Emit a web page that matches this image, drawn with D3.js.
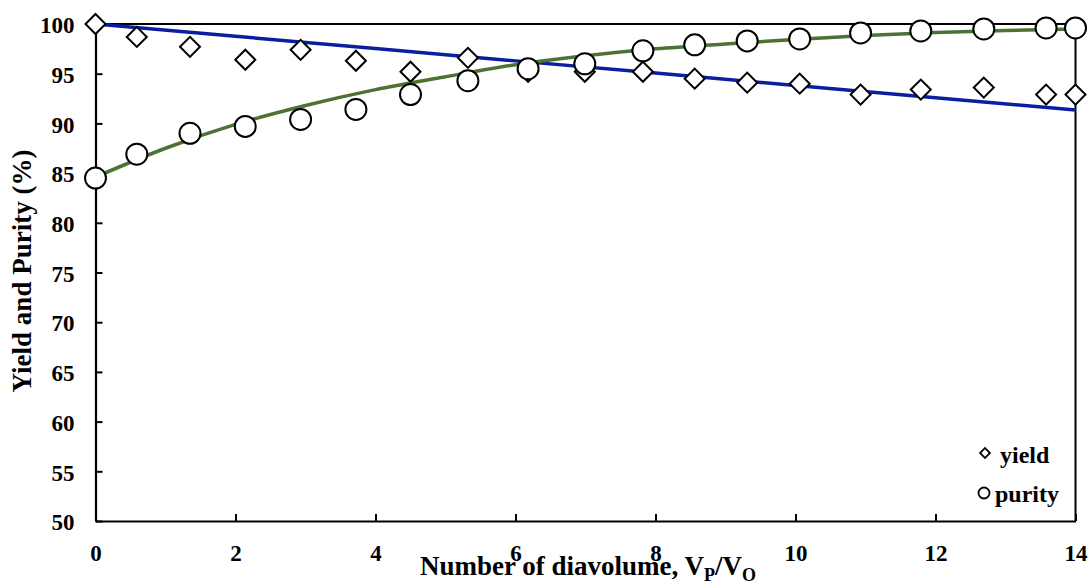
<!DOCTYPE html>
<html>
<head>
<meta charset="utf-8">
<script src="https://cdn.jsdelivr.net/npm/d3@7"></script>
<style>
  html, body { margin: 0; padding: 0; background: #fff; }
  svg text { font-family: "Liberation Serif", "Times New Roman", serif; font-weight: bold; fill: #000; }
</style>
</head>
<body>
<svg id="chart" width="1090" height="583"></svg>
<script>
// Diavolume (Vp/Vo) at which samples were taken
const diavolumes = [0, 0.59, 1.35, 2.14, 2.93, 3.72, 4.5, 5.32, 6.18, 6.99, 7.82, 8.56, 9.31, 10.06, 10.93, 11.79, 12.69, 13.58, 14.0];
// Measured yield (%) and purity (%)
const yieldValues  = [100, 98.7, 97.7, 96.4, 97.4, 96.3, 95.2, 96.6, 95.2, 95.2, 95.2, 94.5, 94.1, 94.0, 92.9, 93.4, 93.6, 92.9, 92.9];
const purityValues = [84.5, 86.9, 89.0, 89.7, 90.4, 91.4, 92.9, 94.3, 95.5, 96.0, 97.3, 97.9, 98.3, 98.5, 99.1, 99.3, 99.5, 99.6, 99.6];
// Model curves
const yieldModelX  = [0, 2, 4, 6, 8, 10, 12, 14];
const yieldModelY  = [100, 98.76, 97.53, 96.29, 95.06, 93.82, 92.59, 91.35];
const purityModelX = [0, 1, 2, 3, 4, 5, 6, 7, 8, 9, 10, 11, 12, 13, 14];
const purityModelY = [84.6, 87.5, 89.9, 91.8, 93.4, 94.7, 95.9, 96.8, 97.5, 98.0, 98.45, 98.85, 99.15, 99.35, 99.5];
// Axis ticks
const xTicks = [0, 2, 4, 6, 8, 10, 12, 14];
const yTicks = [50, 55, 60, 65, 70, 75, 80, 85, 90, 95, 100];
const seriesNames = ["yield", "purity"];

const svg = d3.select("#chart");
const plot = { left: 95.5, right: 1075.5, top: 24, bottom: 521 };

const x = d3.scaleLinear().domain([0, 14]).range([plot.left, plot.right]);
const y = d3.scaleLinear().domain([50, 100]).range([plot.bottom, plot.top]);

// Frame: top and right borders
svg.append("line").attr("x1", plot.left).attr("x2", plot.right).attr("y1", plot.top).attr("y2", plot.top)
  .attr("stroke", "#000").attr("stroke-width", 2);
svg.append("line").attr("x1", plot.right).attr("x2", plot.right).attr("y1", plot.top).attr("y2", plot.bottom)
  .attr("stroke", "#000").attr("stroke-width", 2);

// Axes with inward ticks
const xAxis = d3.axisBottom(x).tickValues(xTicks).tickSizeInner(-7).tickSizeOuter(0).tickPadding(24);
const gx = svg.append("g").attr("transform", `translate(0,${plot.bottom})`).call(xAxis);
gx.select(".domain").attr("stroke-width", 2.2);
gx.selectAll(".tick line").attr("stroke-width", 2);
gx.selectAll("text").attr("font-size", 23).attr("dy", "0.71em");

const yAxis = d3.axisLeft(y).tickValues(yTicks).tickSizeInner(-7).tickSizeOuter(0).tickPadding(21);
const gy = svg.append("g").attr("transform", `translate(${plot.left},0)`).call(yAxis);
gy.select(".domain").attr("stroke-width", 2.2);
gy.selectAll(".tick line").attr("stroke-width", 2);
gy.selectAll("text").attr("font-size", 23).attr("dy", "0.38em");

// Model curves
const yieldLine = d3.line().x(d => x(d[0])).y(d => y(d[1]));
svg.append("path")
  .datum(yieldModelX.map((v, i) => [v, yieldModelY[i]]))
  .attr("d", yieldLine).attr("fill", "none").attr("stroke", "#0a1fa0").attr("stroke-width", 3.5);

const purityLine = d3.line().x(d => x(d[0])).y(d => y(d[1])).curve(d3.curveMonotoneX);
svg.append("path")
  .datum(purityModelX.map((v, i) => [v, purityModelY[i]]))
  .attr("d", purityLine).attr("fill", "none").attr("stroke", "#4d7334").attr("stroke-width", 3.5);

// Measured points
const diamond = d3.symbol().type(d3.symbolSquare).size(200);
svg.append("g").selectAll("path")
  .data(diavolumes.map((v, i) => [v, yieldValues[i]]))
  .join("path")
  .attr("d", diamond)
  .attr("transform", d => `translate(${x(d[0])},${y(d[1])}) rotate(45)`)
  .attr("fill", "#fff").attr("stroke", "#000").attr("stroke-width", 2);

svg.append("g").selectAll("circle")
  .data(diavolumes.map((v, i) => [v, purityValues[i]]))
  .join("circle")
  .attr("cx", d => x(d[0])).attr("cy", d => y(d[1])).attr("r", 10.5)
  .attr("fill", "#fff").attr("stroke", "#000").attr("stroke-width", 2);

// Legend
const legend = svg.append("g").attr("transform", "translate(985,0)");
legend.append("path").attr("d", d3.symbol().type(d3.symbolSquare).size(48))
  .attr("transform", "translate(0,453) rotate(45)")
  .attr("fill", "#fff").attr("stroke", "#000").attr("stroke-width", 1.8);
legend.append("circle").attr("cx", -1).attr("cy", 493).attr("r", 5.5)
  .attr("fill", "#fff").attr("stroke", "#000").attr("stroke-width", 1.8);
legend.append("text").attr("x", 15).attr("y", 463).attr("font-size", 24).text(seriesNames[0]);
legend.append("text").attr("x", 10).attr("y", 502).attr("font-size", 24).text(seriesNames[1]);

// Axis titles
svg.append("text")
  .attr("transform", "translate(31,271) rotate(-90)")
  .attr("text-anchor", "middle").attr("font-size", 27)
  .text("Yield and Purity (%)");

const xt = svg.append("text").attr("x", 420).attr("y", 575).attr("font-size", 27);
xt.append("tspan").text("Number of diavolume, V");
xt.append("tspan").attr("font-size", 18).attr("dy", 6).text("P");
xt.append("tspan").attr("dy", -6).text("/V");
xt.append("tspan").attr("font-size", 18).attr("dy", 6).text("O");
</script>
</body>
</html>
